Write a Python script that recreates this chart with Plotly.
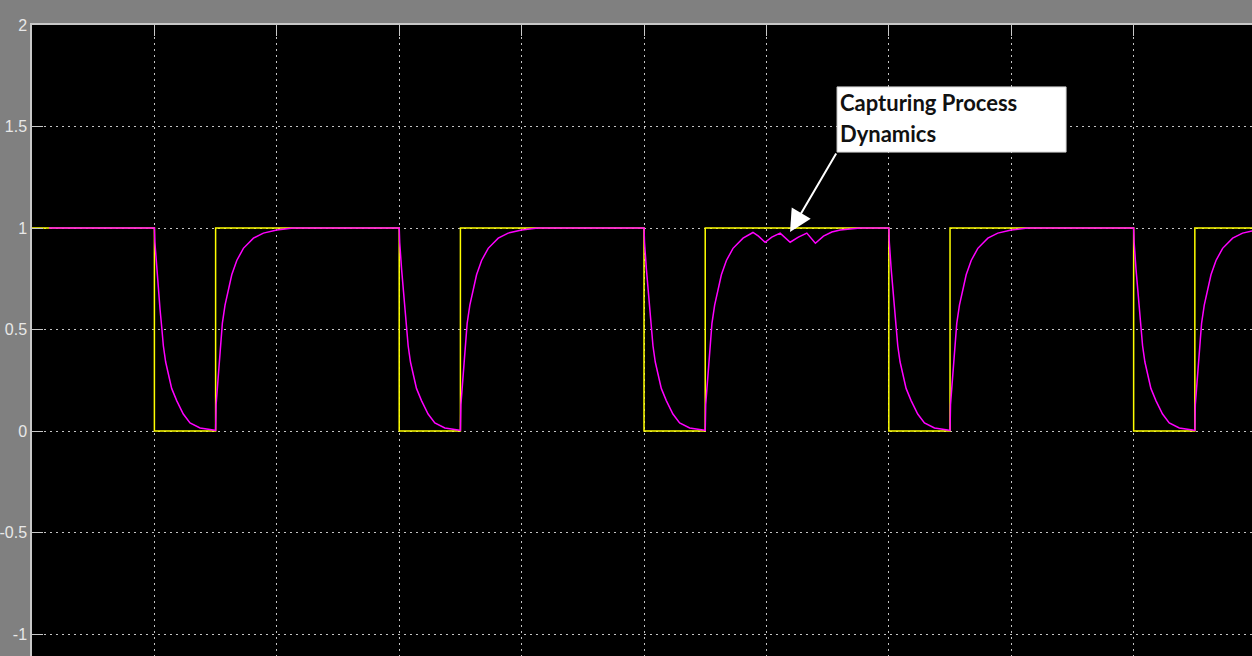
import plotly.graph_objects as go

# ---- data ----
# square-wave reference signal (yellow), step points
sq_t = [0, 1, 1.5, 3, 3.5, 5, 5.5, 7, 7.5, 9, 9.5, 10.5]
sq_y = [1, 0, 1, 0, 1, 0, 1, 0, 1, 0, 1, 1]

# cycle start times (falling edges)
cycle_starts = [1, 3, 5, 7, 9]
ripple_cycle = 5

# process response (magenta): falling part, time after falling edge
fall_dt = [0.0, 0.004, 0.019, 0.032, 0.046, 0.060, 0.073, 0.092, 0.114, 0.141, 0.182, 0.236, 0.291, 0.373, 0.481, 0.5]
fall_y = [1.0, 0.93, 0.80, 0.70, 0.60, 0.51, 0.42, 0.34, 0.28, 0.21, 0.15, 0.084, 0.04, 0.015, 0.005, 0.003]

# rising part, time after rising edge
rise_dt = [0.0, 0.004, 0.022, 0.036, 0.055, 0.077, 0.104, 0.132, 0.173, 0.227, 0.309, 0.39, 0.50, 0.633]
rise_y = [0.003, 0.13, 0.26, 0.39, 0.53, 0.62, 0.70, 0.77, 0.84, 0.90, 0.95, 0.975, 0.99, 1.0]

# rising part with disturbance ripples (third cycle), time after rising edge
ripple_dt = [0.39, 0.435, 0.489, 0.544, 0.612, 0.694, 0.761, 0.83, 0.90, 0.966, 1.034, 1.102, 1.21, 1.265]
ripple_y = [0.978, 0.96, 0.93, 0.955, 0.975, 0.93, 0.955, 0.975, 0.925, 0.96, 0.98, 0.99, 0.995, 1.0]

resp_start_t = 0.14
resp_start_y = 1.0

y_tickvals = [2, 1.5, 1, 0.5, 0, -0.5, -1]
y_ticktext = ["2", "1.5", "1", "0.5", "0", "-0.5", "-1"]
x_tickvals = [0, 1, 2, 3, 4, 5, 6, 7, 8, 9]

annotation_lines = ["Capturing Process", "Dynamics"]

# ---- build response series from the read pieces ----
resp_t = [resp_start_t]
resp_y = [resp_start_y]
for c in cycle_starts:
    resp_t += [c + d for d in fall_dt]
    resp_y += list(fall_y)
    r0 = c + 0.5
    if c == ripple_cycle:
        n = sum(1 for d in rise_dt if d < ripple_dt[0])
        resp_t += [r0 + d for d in rise_dt[:n]] + [r0 + d for d in ripple_dt]
        resp_y += list(rise_y[:n]) + list(ripple_y)
    else:
        resp_t += [r0 + d for d in rise_dt]
        resp_y += list(rise_y)

fig = go.Figure()
fig.add_trace(go.Scatter(x=sq_t, y=sq_y, mode="lines", line=dict(color="#ffff00", width=1.5, shape="hv"),
                         hoverinfo="skip"))
fig.add_trace(go.Scatter(x=resp_t, y=resp_y, mode="lines", line=dict(color="#ff00ff", width=1.5),
                         hoverinfo="skip"))

axis_col = "#c8c8c8"
grid_col = "#c4c4c4"

fig.update_layout(
    width=1252, height=656,
    margin=dict(l=32, r=0, t=25, b=0),
    paper_bgcolor="#808080",
    plot_bgcolor="#000000",
    showlegend=False,
    xaxis=dict(range=[0, 9.967], tickvals=x_tickvals, showticklabels=False, side="top",
               ticks="inside", ticklen=11, tickwidth=1, tickcolor=axis_col,
               showgrid=True, gridcolor=grid_col, gridwidth=1, griddash="2px,4px",
               showline=True, linecolor=axis_col, linewidth=1.5, zeroline=False),
    yaxis=dict(range=[-1.108, 2], tickvals=y_tickvals, ticktext=y_ticktext,
               ticks="inside", ticklen=11, tickwidth=1, tickcolor=axis_col,
               tickfont=dict(family="Liberation Sans", size=16, color="#e8e8e8"),
               showgrid=True, gridcolor=grid_col, gridwidth=1, griddash="2px,4px",
               showline=True, linecolor=axis_col, linewidth=1.5, zeroline=False),
)

# annotation box
fig.add_shape(type="rect", xref="x", yref="y", x0=6.577, x1=8.448, y0=1.374, y1=1.695,
              fillcolor="white", line=dict(color="#d0d0d0", width=1), layer="above")
fig.add_annotation(x=6.585, y=1.616, xref="x", yref="y", xanchor="left", yanchor="middle",
                   text="<b>" + annotation_lines[0] + "</b>", showarrow=False,
                   font=dict(family="Lato", size=22, color="#111111"))
fig.add_annotation(x=6.585, y=1.468, xref="x", yref="y", xanchor="left", yanchor="middle",
                   text="<b>" + annotation_lines[1] + "</b>", showarrow=False,
                   font=dict(family="Lato", size=22, color="#111111"))
# arrow
fig.add_annotation(x=6.193, y=0.98, xref="x", yref="y", text="", showarrow=True,
                   ax=47, ay=-80, arrowcolor="white", arrowwidth=2, arrowhead=2, arrowsize=2.2)

fig.write_html("out.html", config={"displayModeBar": False},
               post_script="document.body.style.margin='0';document.body.style.overflow='hidden';")
